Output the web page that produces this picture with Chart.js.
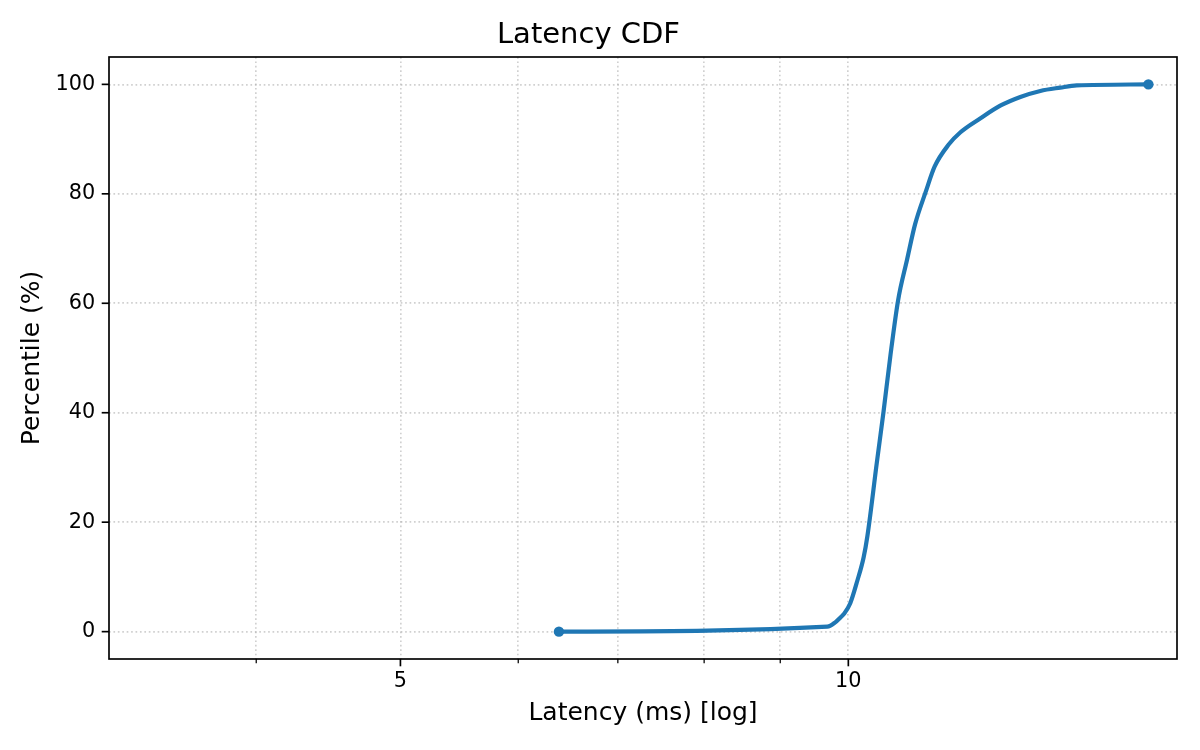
<!DOCTYPE html>
<html>
<head>
<meta charset="utf-8">
<title>Latency CDF</title>
<script src="https://cdn.jsdelivr.net/npm/chart.js@4.4.1/dist/chart.umd.min.js"></script>
<style>
  html, body { margin: 0; padding: 0; background: #fff; }
  canvas { display: block; }
</style>
</head>
<body>
<canvas id="cdfChart" width="1200" height="750"></canvas>
<script>
// values
const latencyMs = [6.39, 9.68, 9.80, 9.88, 9.93, 10.03, 10.14, 10.24, 10.30, 10.45, 10.56, 10.67, 10.80, 10.95, 11.09, 11.27, 11.43, 11.68, 11.89, 12.27, 12.65, 13.05, 13.46, 13.88, 14.24, 15.91];
const percentile = [0, 0.9, 1.7, 2.6, 3.2, 5.2, 9.3, 13.6, 17.5, 30.8, 40.2, 50.2, 60.5, 67.9, 74.5, 80.3, 85.0, 89.0, 91.2, 93.8, 96.1, 97.7, 98.8, 99.4, 99.8, 100];

const xTickValues = [4, 5, 6, 7, 8, 9, 10];
const xTickLabels = ['', '5', '', '', '', '', '10'];
const yTickValues = [0, 20, 40, 60, 80, 100];

const xRange = [3.185, 16.63];
const yRange = [-5, 105];

Chart.defaults.font.family = "'DejaVu Sans', sans-serif";
Chart.defaults.color = '#000';

const gridStyle = {
    color: 'rgba(176,176,176,0.6)',
    lineWidth: 1.67,
    drawTicks: false
};
// in v4 the dash of the grid lines sits under border
const borderStyle = {
    display: false,
    dash: [1.67, 2.75]
};

// spines + tick marks like matplotlib (minor ticks shorter)
const framePlugin = {
    id: 'frame',
    afterDraw(chart) {
        const ctx = chart.ctx;
        const a = chart.chartArea;
        const x = chart.scales.x;
        const y = chart.scales.y;
        ctx.save();
        ctx.strokeStyle = '#000';
        x.ticks.forEach((t, i) => {
            const px = x.getPixelForValue(t.value);
            const major = xTickLabels[i] !== '';
            ctx.lineWidth = major ? 1.67 : 1.25;
            ctx.beginPath();
            ctx.moveTo(px, a.bottom);
            ctx.lineTo(px, a.bottom + (major ? 7.3 : 4.2));
            ctx.stroke();
        });
        y.ticks.forEach(t => {
            const py = y.getPixelForValue(t.value);
            ctx.lineWidth = 1.67;
            ctx.beginPath();
            ctx.moveTo(a.left, py);
            ctx.lineTo(a.left - 7.3, py);
            ctx.stroke();
        });
        ctx.lineWidth = 1.67;
        ctx.strokeRect(a.left, a.top, a.right - a.left, a.bottom - a.top);
        ctx.restore();
    }
};

const lastIndex = latencyMs.length - 1;

new Chart(document.getElementById('cdfChart'), {
    type: 'line',
    data: {
        datasets: [{
            data: latencyMs.map((v, i) => ({ x: v, y: percentile[i] })),
            borderColor: '#1f77b4',
            backgroundColor: '#1f77b4',
            borderWidth: 4.2,
            cubicInterpolationMode: 'monotone',
            pointRadius: (c) => (c.dataIndex === 0 || c.dataIndex === lastIndex) ? 5.2 : 0,
            pointHoverRadius: (c) => (c.dataIndex === 0 || c.dataIndex === lastIndex) ? 5.2 : 0,
            pointBorderWidth: 0,
            fill: false
        }]
    },
    options: {
        responsive: false,
        animation: false,
        layout: { padding: { left: 0, right: 23, top: 0, bottom: 0 } },
        plugins: {
            legend: { display: false },
            tooltip: { enabled: false },
            title: {
                display: true,
                text: 'Latency CDF',
                font: { size: 29, weight: 'normal' },
                color: '#000',
                padding: { top: 17.6, bottom: 4.6 }
            }
        },
        scales: {
            x: {
                type: 'logarithmic',
                min: xRange[0],
                max: xRange[1],
                afterBuildTicks: (scale) => {
                    scale.ticks = xTickValues.map(v => ({ value: v }));
                },
                afterFit: (scale) => { scale.height = 91; },
                ticks: {
                    autoSkip: false,
                    maxRotation: 0,
                    padding: 10.6,
                    font: { size: 20.8 },
                    color: '#000',
                    callback: (value, index) => xTickLabels[index]
                },
                grid: gridStyle,
                border: borderStyle,
                title: {
                    display: true,
                    text: 'Latency (ms) [log]',
                    font: { size: 25 },
                    color: '#000',
                    padding: { top: 0, bottom: 22 }
                }
            },
            y: {
                type: 'linear',
                min: yRange[0],
                max: yRange[1],
                afterBuildTicks: (scale) => {
                    scale.ticks = yTickValues.map(v => ({ value: v }));
                },
                afterFit: (scale) => { scale.width = 109; },
                ticks: {
                    padding: 13.8,
                    font: { size: 20.8 },
                    color: '#000',
                    callback: (value) => String(value)
                },
                grid: gridStyle,
                border: borderStyle,
                title: {
                    display: true,
                    text: 'Percentile (%)',
                    font: { size: 25 },
                    color: '#000',
                    padding: { top: 17.4, bottom: 0 }
                }
            }
        }
    },
    plugins: [framePlugin]
});
</script>
</body>
</html>
